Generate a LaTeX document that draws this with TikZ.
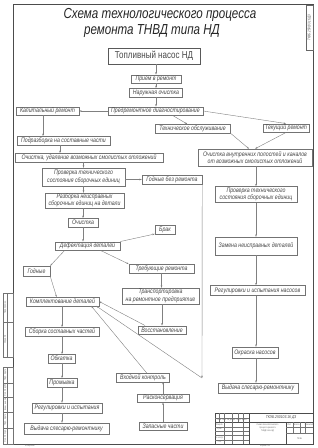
\documentclass[tikz,border=0pt]{standalone}
\usepackage{fontspec}
\setmainfont{Liberation Sans}
\newfontfamily\gost{Liberation Sans}[FakeStretch=0.8]
\usetikzlibrary{arrows.meta,calc}
\begin{document}
\begin{tikzpicture}[x=1pt,y=-1pt,
  every node/.style={font=\gost\itshape\fontsize{6.5}{7.2}\selectfont, text=black!72},
  bx/.style={draw=black!55, line width=0.45pt, inner xsep=1.5pt, inner ysep=0.8pt, minimum width=#1, minimum height=8.5pt, align=center},
  ln/.style={draw=black!50, line width=0.4pt},
  ar/.style={ln, -{Stealth[length=2.4pt,width=1.6pt]}},
  fr/.style={draw=black!70, line width=0.6pt},
  thn/.style={draw=black!55, line width=0.3pt},
  tiny/.style={font=\gost\fontsize{2.4}{2.8}\selectfont, text=black!60, inner sep=0pt, align=center}]
\useasboundingbox (0,0) rectangle (317,448);
\fill[white] (0,0) rectangle (317,448);

% frame
\draw[fr] (13,4) rectangle (313,444);
% left strip
\draw[thn] (3,293) rectangle (13,357);
\draw[thn] (3,322) -- (13,322);
\draw[thn] (7.5,293) -- (7.5,357);
\draw[thn] (3,367) rectangle (13,444);
\foreach \yy in {383,397,412,428} \draw[thn] (3,\yy) -- (13,\yy);
\draw[thn] (7.5,367) -- (7.5,444);
\node[tiny, rotate=90] (s1) at (5.2,307.5) {Перв. примен.};
\node[tiny, rotate=90] (s2) at (5.2,339.5) {Справ. №};
\node[tiny, rotate=90] (s3) at (5.2,375) {Подп. и дата};
\node[tiny, rotate=90] (s4) at (5.2,390) {Инв. № дубл.};
\node[tiny, rotate=90] (s5) at (5.2,404.5) {Взам. инв. №};
\node[tiny, rotate=90] (s6) at (5.2,420) {Подп. и дата};
\node[tiny, rotate=90] (s7) at (5.2,436) {Инв. № подл.};
% top right code box
\node[draw=black!60, line width=0.4pt, rotate=90, minimum width=45pt, minimum height=7pt, inner sep=0pt,
  font=\gost\itshape\fontsize{3.6}{4}\selectfont] (code) at (309.5,27.5) {ТКЭБ.250103.16 Д3};

% stamp
\draw[fr] (215,444) -- (215,413) -- (313,413);
\draw[fr] (215,422) -- (313,422);
\draw[fr] (249,413) -- (249,444);
\draw[fr] (286,422) -- (286,444);
\foreach \yy in {418,427,431,435,440} \draw[thn] (215,\yy) -- (249,\yy);
\foreach \xx in {219,224,232,238,243} \draw[thn] (\xx,413) -- (\xx,422);
\draw[thn] (224,422) -- (224,444);
\draw[thn] (232,422) -- (232,444);
\draw[thn] (243,422) -- (243,444);
\draw[thn] (286,427) -- (313,427);
\draw[thn] (286,433) -- (313,433);
\foreach \xx in {293,300,305} \draw[thn] (\xx,422) -- (\xx,433);
\node[font=\gost\itshape\fontsize{4.2}{5}\selectfont, text=black!70] (scode) at (281,417.5) {ТКЭБ.250103.16 Д3};
\node[tiny] (st1) at (267.5,428) {Схема технологического\\процесса ремонта\\ТНВД типа НД};
\node[tiny] (st2) at (219.5,424.5) {Разраб.};
\node[tiny] (st3) at (219.5,429) {Пров.};
\node[tiny] (st4) at (219.5,437.5) {Н. контр.};
\node[tiny] (st5) at (219.5,442) {Утв.};
\node[tiny] (st6) at (232,420) {Изм. Лист № докум. Подп. Дата};
\node[tiny] (st7) at (289.5,424.5) {Лит.};
\node[tiny] (st8) at (296.5,424.5) {Масса};
\node[tiny] (st9) at (309,424.5) {Масштаб};
\node[tiny] (st10) at (299.5,438.5) {ТКЭБ};
\node[tiny] (bt1) at (30,446.2) {Копировал};
\node[tiny] (bt2) at (265,446.2) {Формат A4};

% title
\node[font=\gost\itshape\fontsize{14.5}{16}\selectfont, text=black!85] (t1) at (160,15) {Схема технологического процесса};
\node[font=\gost\itshape\fontsize{14.5}{16}\selectfont, text=black!85] (t2) at (152,31) {ремонта ТНВД типа НД};

% nodes
\node[bx=92, minimum height=16pt, draw=black!65, line width=0.6pt, font=\gost\fontsize{10}{12}\selectfont] (main) at (154,56) {Топливный насос НД};
\node[bx=50] (priem) at (156,79) {Прием в ремонт};
\node[bx=53] (naruzh) at (156,92.5) {Наружная очистка};
\node[bx=95] (predrem) at (155.5,111) {Предремонтное диагностирование};
\node[bx=63] (kap) at (47.5,111) {Капитальный ремонт};
\node[bx=75] (to) at (192.5,128.5) {Техническое обслуживание};
\node[bx=46] (tek) at (286,128) {Текущий ремонт};
\node[bx=93] (podraz) at (63.5,140.5) {Подразборка на составные части};
\node[bx=148] (ochudal) at (89,157.5) {Очистка, удаление возможных смолистых отложений};
\node[bx=114, minimum height=17pt] (ochvn) at (255,157.5) {Очистка внутренних полостей и каналов\\от возможных смолистых отложений};
\node[bx=83, minimum height=18pt] (prov1) at (83.5,177) {Проверка технического\\состояния сборочных единиц};
\node[bx=60] (godbr) at (172,179.5) {Годные без ремонта};
\node[bx=82, minimum height=16pt] (prov2) at (256,194.5) {Проверка технического\\состояния сборочных единиц};
\node[bx=79, minimum height=14pt] (razb) at (84.5,200.5) {Разборка неисправных\\сборочных единиц на детали};
\node[bx=30] (ochis) at (83,222.5) {Очистка};
\node[bx=20] (brak) at (165,229.5) {Брак};
\node[bx=65] (defek) at (87.5,246) {Дефектация деталей};
\node[bx=82, minimum height=18pt] (zamena) at (256,246) {Замена неисправных деталей};
\node[bx=27, minimum height=10pt] (godn) at (36.5,271) {Годные};
\node[bx=65] (treb) at (161.5,268.5) {Требующие ремонта};
\node[bx=95, minimum height=10pt] (regnas) at (257.5,290.5) {Регулировки и испытания насосов};
\node[bx=77, minimum height=16pt] (transp) at (160.5,296) {Транспортировка\\на ремонтное предприятие};
\node[bx=73] (kompl) at (62.5,301.5) {Комплектование деталей};
\node[bx=74] (sborka) at (62,331.5) {Сборка составных частей};
\node[bx=48] (vosst) at (162,330) {Восстановление};
\node[bx=46, minimum height=11pt] (okras) at (255,352.5) {Окраска насосов};
\node[bx=27] (obkat) at (61.5,358.5) {Обкатка};
\node[bx=53] (vhod) at (143,377.5) {Входной контроль};
\node[bx=30] (promyv) at (62,382.5) {Промывка};
\node[bx=80, minimum height=10pt] (vydR) at (258,388) {Выдача слесарю-ремонтнику};
\node[bx=52] (raskon) at (163,398) {Расконсервация};
\node[bx=70, minimum height=10pt] (reg) at (67,408) {Регулировки и испытания};
\node[bx=48] (zapas) at (163,426) {Запасные части};
\node[bx=85, minimum height=11pt] (vydL) at (66.5,428.5) {Выдача слесарю-ремонтнику};
\coordinate (jct) at (202,378);

% connectors
\draw[ar] (main.south -| priem.north) -- (priem.north);
\draw[ar] (priem) -- (naruzh);
\draw[ar] (naruzh.south) -- (naruzh.south |- predrem.north);
\draw[ar] (predrem.west) -- (kap.east);
\draw[ar] ($(predrem.south west)!0.68!(predrem.south east)$) -- ($(to.north west)!0.43!(to.north east)$);
\draw[ar] (predrem.east) -- (tek.north);
\draw[ar] (to.south east) -- ($(ochvn.north)+(-6,0)$);
\draw[ar] (tek.south) -- (ochvn.north);
\draw[ar] ([xshift=-4.5pt]kap.south) -- ([xshift=-4.5pt]kap.south |- podraz.north);
\draw[ar] ([xshift=-3.5pt]podraz.south) -- ([xshift=-3.5pt]podraz.south |- ochudal.north);
\draw[ar] (prov1.north |- ochudal.south) -- (prov1.north);
\draw[ar] (prov1.east |- godbr.west) -- (godbr.west);
\draw[ar] (prov1.south) -- (prov1.south |- razb.north);
\draw[ar] (ochis.north |- razb.south) -- (ochis.north);
\draw[ar] (ochis.south) -- (ochis.south |- defek.north);
\draw[ar] (defek.north east) -- (brak.south west);
\draw[ar] ($(defek.south west)!0.15!(defek.south east)$) -- (godn.north east);
\draw[ar] ($(defek.south west)!0.7!(defek.south east)$) -- (treb.north west);
\draw[ar] (godn.south east) -- ($(kompl.north west)!0.42!(kompl.north east)$);
\draw[ar] (treb.south) -- (treb.south |- transp.north);
\draw[ar] (vosst.north |- transp.south) -- (vosst.north);
\draw[ar] ($(vosst.north west)!0.15!(vosst.north east)$) -- (kompl.east);
\draw[ar] (godbr.south east) -- (jct);
\draw[ar] (jct) -- ([xshift=-3pt]kompl.south east);
\draw[ar] ($(vhod.north west)!0.57!(vhod.north east)$) -- ([xshift=-8pt]kompl.south east);
\draw[ar] (prov2.north |- ochvn.south) -- (prov2.north);
\draw[ar] (prov2.south) -- (prov2.south |- zamena.north);
\draw[ar] (zamena.south) -- (zamena.south |- regnas.north);
\draw[ar] (zamena.south |- regnas.south) -- (zamena.south |- okras.north);
\draw[ar] (zamena.south |- okras.south) -- (zamena.south |- vydR.north);
\draw[ar] (sborka.north |- kompl.south) -- (sborka.north);
\draw[ar] (sborka.south) -- (sborka.south |- obkat.north);
\draw[ar] (sborka.south |- obkat.south) -- (sborka.south |- promyv.north);
\draw[ar] (sborka.south |- promyv.south) -- (sborka.south |- reg.north);
\draw[ar] (sborka.south |- reg.south) -- (sborka.south |- vydL.north);
\draw[ar] (zapas.north) -- (zapas.north |- raskon.south);
\draw[ar] (zapas.north |- raskon.north) -- (zapas.north |- vhod.south);
\end{tikzpicture}
\end{document}
